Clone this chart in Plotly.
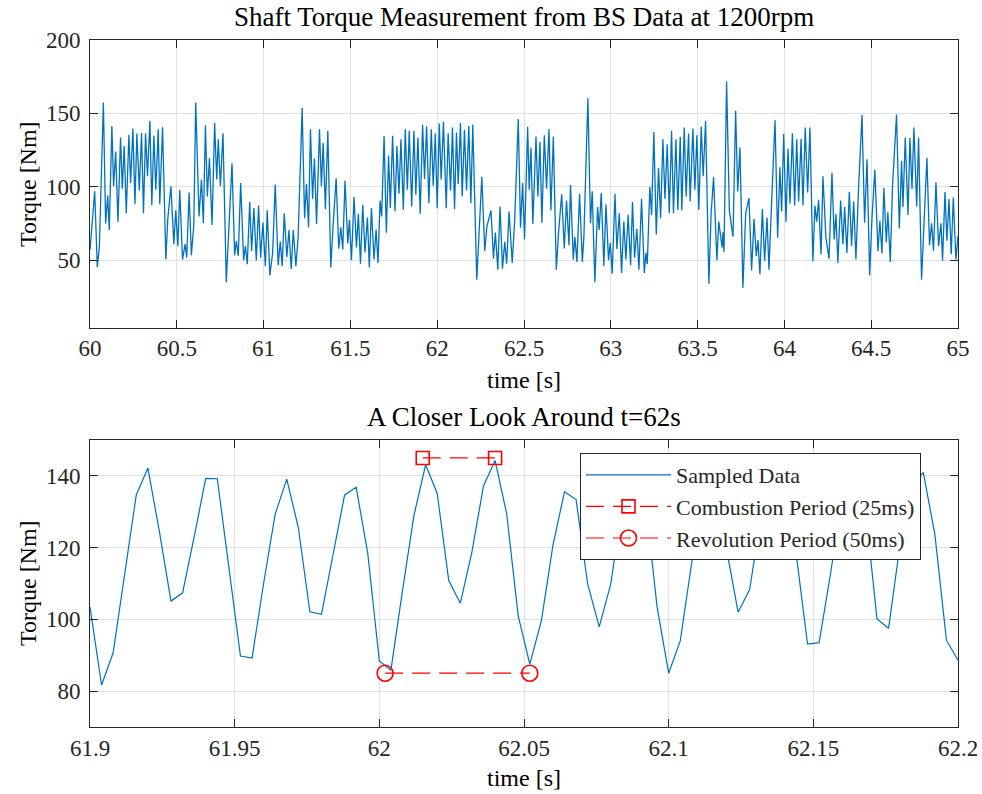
import numpy as np
import plotly.graph_objects as go

# ---------------- data ----------------
# Top panel: turning points of the shaft torque trace, 60 s .. 65 s
top_time = [
    60.000, 60.027, 60.042, 60.054, 60.077, 60.090, 60.102, 60.111, 60.126, 60.136,
    60.148, 60.161, 60.176, 60.186, 60.197, 60.209, 60.224, 60.234, 60.247, 60.259,
    60.270, 60.284, 60.297, 60.308, 60.320, 60.331, 60.345, 60.356, 60.368, 60.379,
    60.393, 60.402, 60.418, 60.437, 60.448, 60.466, 60.483, 60.494, 60.506, 60.517,
    60.533, 60.548, 60.557, 60.571, 60.584, 60.598, 60.609, 60.628, 60.642, 60.653,
    60.665, 60.676, 60.688, 60.703, 60.718, 60.730, 60.739, 60.751, 60.766, 60.785,
    60.818, 60.833, 60.843, 60.854, 60.868, 60.885, 60.895, 60.906, 60.920, 60.931,
    60.944, 60.958, 60.971, 60.983, 60.996, 61.010, 61.021, 61.036, 61.052, 61.067,
    61.084, 61.096, 61.107, 61.119, 61.134, 61.146, 61.159, 61.171, 61.186, 61.199,
    61.222, 61.236, 61.247, 61.259, 61.270, 61.282, 61.293, 61.305, 61.322, 61.333,
    61.343, 61.356, 61.370, 61.387, 61.400, 61.418, 61.433, 61.445, 61.456, 61.469,
    61.485, 61.494, 61.506, 61.521, 61.535, 61.546, 61.558, 61.571, 61.584, 61.598,
    61.609, 61.621, 61.636, 61.648, 61.659, 61.671, 61.680, 61.694, 61.707, 61.720,
    61.730, 61.743, 61.757, 61.768, 61.780, 61.791, 61.805, 61.816, 61.828, 61.839,
    61.853, 61.866, 61.877, 61.889, 61.902, 61.916, 61.927, 61.939, 61.952, 61.966,
    61.977, 61.989, 62.000, 62.012, 62.023, 62.036, 62.052, 62.063, 62.077, 62.088,
    62.100, 62.111, 62.121, 62.134, 62.144, 62.157, 62.169, 62.182, 62.194, 62.205,
    62.228, 62.241, 62.257, 62.274, 62.286, 62.310, 62.324, 62.335, 62.349, 62.362,
    62.376, 62.389, 62.400, 62.414, 62.432, 62.446, 62.467, 62.480, 62.492, 62.503,
    62.521, 62.530, 62.540, 62.551, 62.569, 62.580, 62.592, 62.603, 62.617, 62.630,
    62.644, 62.655, 62.669, 62.686, 62.699, 62.717, 62.732, 62.745, 62.759, 62.768,
    62.784, 62.793, 62.805, 62.820, 62.836, 62.845, 62.868, 62.883, 62.893, 62.908,
    62.924, 62.933, 62.945, 62.960, 62.972, 62.987, 62.997, 63.008, 63.024, 63.035,
    63.049, 63.062, 63.075, 63.087, 63.100, 63.114, 63.125, 63.137, 63.150, 63.162,
    63.177, 63.193, 63.202, 63.210, 63.225, 63.235, 63.248, 63.262, 63.275, 63.287,
    63.300, 63.312, 63.325, 63.337, 63.350, 63.361, 63.375, 63.386, 63.400, 63.409,
    63.423, 63.434, 63.448, 63.457, 63.473, 63.484, 63.496, 63.507, 63.521, 63.532,
    63.546, 63.565, 63.578, 63.592, 63.611, 63.622, 63.641, 63.646, 63.652, 63.667,
    63.683, 63.704, 63.719, 63.731, 63.744, 63.761, 63.777, 63.796, 63.811, 63.825,
    63.838, 63.848, 63.859, 63.873, 63.886, 63.900, 63.911, 63.927, 63.946, 63.961,
    63.974, 63.984, 63.996, 64.009, 64.021, 64.032, 64.046, 64.059, 64.071, 64.082,
    64.096, 64.107, 64.120, 64.134, 64.147, 64.164, 64.176, 64.186, 64.197, 64.211,
    64.222, 64.239, 64.257, 64.274, 64.287, 64.297, 64.308, 64.324, 64.337, 64.347,
    64.360, 64.374, 64.387, 64.399, 64.412, 64.426, 64.447, 64.462, 64.476, 64.491,
    64.504, 64.521, 64.539, 64.550, 64.562, 64.573, 64.587, 64.596, 64.610, 64.623,
    64.646, 64.662, 64.675, 64.683, 64.696, 64.712, 64.723, 64.735, 64.746, 64.762,
    64.773, 64.790, 64.804, 64.821, 64.836, 64.848, 64.859, 64.873, 64.888, 64.902,
    64.911, 64.925, 64.936, 64.948, 64.961, 64.973, 64.988, 65.000,
]
top_torque = [
    56.9, 97.0, 45.4, 59.0, 157.5, 75.0, 94.0, 70.6, 141.5, 100.4,
    124.0, 76.3, 133.5, 98.7, 127.8, 82.0, 135.4, 102.6, 139.7, 88.2,
    136.3, 97.6, 136.7, 82.0, 136.5, 107.2, 145.0, 87.5, 134.7, 98.0,
    139.2, 88.2, 140.6, 50.5, 78.0, 100.4, 61.0, 84.0, 59.6, 98.0,
    50.5, 61.0, 52.0, 96.2, 53.4, 74.0, 157.5, 79.8, 105.0, 75.2,
    142.0, 93.5, 119.6, 74.0, 143.4, 105.0, 132.4, 100.4, 136.5, 35.1,
    116.0, 53.4, 63.0, 53.0, 102.6, 50.0, 59.6, 47.3, 89.6, 56.4,
    85.5, 49.8, 87.3, 51.8, 75.6, 45.9, 84.0, 39.7, 55.0, 101.5,
    46.6, 62.8, 45.9, 82.0, 52.3, 70.6, 44.0, 70.6, 45.9, 66.0,
    153.7, 78.6, 102.0, 72.4, 139.2, 91.7, 119.3, 74.7, 139.2, 100.4,
    129.9, 84.8, 138.1, 45.0, 72.9, 105.8, 57.8, 72.4, 57.3, 104.2,
    61.5, 77.5, 50.0, 93.0, 58.7, 81.6, 47.7, 87.8, 55.3, 79.1,
    45.0, 85.5, 50.5, 71.0, 48.2, 90.7, 79.8, 134.7, 68.8, 121.4,
    85.5, 134.7, 83.2, 127.8, 95.3, 132.4, 84.3, 139.2, 98.0, 138.1,
    86.6, 138.1, 94.6, 133.5, 81.6, 142.2, 105.4, 141.1, 88.9, 139.2,
    100.8, 136.3, 85.5, 143.1, 104.9, 144.3, 85.5, 136.5, 97.6, 140.4,
    84.8, 137.0, 102.0, 143.4, 93.5, 138.8, 97.6, 141.5, 88.9, 142.4,
    36.7, 69.5, 106.8, 56.4, 72.9, 83.9, 51.1, 68.8, 43.6, 86.6,
    44.3, 62.6, 47.7, 83.2, 48.2, 76.3, 146.1, 72.2, 102.6, 64.2,
    140.8, 98.0, 126.7, 74.7, 134.2, 93.5, 130.6, 75.6, 135.1, 98.7,
    139.2, 83.9, 134.2, 43.6, 68.8, 95.0, 58.0, 90.7, 60.3, 101.3,
    50.5, 66.0, 48.9, 95.3, 48.9, 66.0, 160.3, 75.2, 96.9, 35.1,
    86.2, 70.6, 95.8, 46.1, 88.2, 50.0, 61.9, 40.9, 95.3, 57.6,
    82.0, 41.3, 76.3, 50.5, 80.9, 46.6, 89.6, 51.8, 71.3, 43.6,
    91.9, 41.3, 55.0, 47.3, 99.9, 80.9, 137.4, 67.6, 112.9, 78.6,
    132.4, 91.7, 128.9, 82.0, 138.1, 82.0, 132.4, 84.3, 134.0, 83.9,
    140.4, 93.5, 136.3, 90.0, 139.7, 98.0, 135.1, 84.3, 141.1, 107.2,
    145.0, 34.0, 82.0, 106.5, 50.0, 76.3, 58.7, 69.0, 55.7, 171.7,
    83.6, 66.0, 151.8, 96.9, 126.7, 31.3, 82.0, 92.3, 43.1, 78.1,
    52.8, 63.7, 40.4, 84.8, 49.6, 79.1, 43.6, 91.2, 145.4, 65.3,
    113.4, 83.2, 136.0, 76.3, 126.0, 88.5, 136.5, 87.3, 132.4, 90.0,
    132.8, 87.3, 140.4, 96.2, 140.4, 49.3, 87.3, 76.3, 91.2, 53.9,
    107.2, 65.6, 51.1, 109.5, 64.2, 81.6, 48.2, 90.7, 61.0, 86.2,
    55.0, 96.7, 59.8, 90.0, 50.5, 95.8, 148.9, 75.6, 118.7, 39.7,
    77.5, 111.6, 56.2, 76.8, 54.6, 99.3, 62.1, 82.7, 48.9, 101.0,
    149.3, 71.7, 117.6, 86.2, 133.5, 80.9, 133.3, 98.5, 140.4, 86.6,
    133.5, 36.7, 77.5, 119.8, 60.3, 75.2, 56.4, 103.1, 59.6, 75.2,
    49.6, 96.5, 63.3, 91.7, 54.1, 92.8, 50.5, 66.5,
]

# Bottom panel: samples every 4 ms from 61.900 s to 62.200 s
zoom_start = 61.9
zoom_dt = 0.004
zoom_torque = [
    103.4, 81.7, 90.7, 113.0, 134.7, 142.2, 124.4, 105.1, 107.4, 123.0,
    139.3, 139.2, 114.0, 89.8, 89.2, 110.0, 129.3, 139.1, 125.6, 102.1,
    101.4, 118.0, 134.7, 136.8, 118.4, 88.4, 85.8, 108.0, 129.1, 143.1,
    135.1, 110.8, 104.5, 118.8, 137.2, 144.3, 129.5, 101.0, 87.5, 99.6,
    120.6, 135.6, 133.4, 109.9, 97.9, 109.9, 132.0, 140.0, 133.0, 103.4,
    85.0, 94.0, 116.0, 136.0, 133.0, 119.6, 102.0, 108.3, 129.3, 143.0,
    135.0, 118.7, 93.1, 93.5, 113.0, 135.0, 139.0, 131.0, 100.1, 97.5,
    121.0, 137.0, 141.0, 123.7, 94.2, 88.6,
]
zoom_time = list(np.round(zoom_start + zoom_dt * np.arange(len(zoom_torque)), 3))

combustion_time = [62.015, 62.040]
combustion_torque = [145, 145]
revolution_time = [62.002, 62.052]
revolution_torque = [85, 85]

top_xticks = [60, 60.5, 61, 61.5, 62, 62.5, 63, 63.5, 64, 64.5, 65]
top_xlabels = ["60", "60.5", "61", "61.5", "62", "62.5", "63", "63.5", "64", "64.5", "65"]
top_yticks = [50, 100, 150, 200]
bot_xticks = [61.9, 61.95, 62.0, 62.05, 62.1, 62.15, 62.2]
bot_xlabels = ["61.9", "61.95", "62", "62.05", "62.1", "62.15", "62.2"]
bot_yticks = [80, 100, 120, 140]

# ---------------- styling ----------------
FONT = "Liberation Serif"
BLUE = "#0072BD"
RED = "#FF0000"
AX = "#262626"
GRID = "#e0e0e0"
W, H = 982, 794

def px_x(p):
    return p / W

def px_y(p):
    return 1 - p / H

fig = go.Figure()
fig.add_trace(go.Scatter(x=top_time, y=top_torque, mode="lines",
                         line=dict(color=BLUE, width=1.3), showlegend=False,
                         xaxis="x", yaxis="y"))
fig.add_trace(go.Scatter(x=zoom_time, y=zoom_torque, mode="lines",
                         name="Sampled Data", line=dict(color=BLUE, width=1.2),
                         xaxis="x2", yaxis="y2"))
fig.add_trace(go.Scatter(x=combustion_time, y=combustion_torque, mode="lines+markers",
                         name="Combustion Period (25ms)",
                         line=dict(color=RED, width=1.2, dash="18px,9px"),
                         marker=dict(symbol="square-open", size=13, color=RED,
                                     line=dict(width=1.6, color=RED)),
                         xaxis="x2", yaxis="y2"))
fig.add_trace(go.Scatter(x=revolution_time, y=revolution_torque, mode="lines+markers",
                         name="Revolution Period (50ms)",
                         line=dict(color=RED, width=1.2, dash="18px,9px"),
                         marker=dict(symbol="circle-open", size=16, color=RED,
                                     line=dict(width=1.6, color=RED)),
                         xaxis="x2", yaxis="y2"))

axis_common = dict(showline=True, linecolor=AX, linewidth=1, mirror="allticks",
                   ticks="inside", ticklen=8, tickcolor=AX, tickwidth=1,
                   showgrid=True, gridcolor=GRID, gridwidth=1, zeroline=False,
                   tickfont=dict(family=FONT, size=23, color=AX),
                   automargin=False)

xd = [px_x(90), px_x(958)]
fig.update_layout(
    width=W, height=H, autosize=False,
    margin=dict(l=0, r=0, t=0, b=0, pad=0),
    paper_bgcolor="white", plot_bgcolor="white",
    font=dict(family=FONT, color=AX),
    xaxis=dict(domain=xd, range=[60, 65], tickvals=top_xticks, ticktext=top_xlabels,
               anchor="y", ticklabelstandoff=0, **axis_common),
    yaxis=dict(domain=[px_y(327.5), px_y(40)], range=[4.2, 200], tickvals=top_yticks,
               anchor="x", ticklabelstandoff=4, **axis_common),
    xaxis2=dict(domain=xd, range=[61.9, 62.2], tickvals=bot_xticks, ticktext=bot_xlabels,
                anchor="y2", ticklabelstandoff=0, **axis_common),
    yaxis2=dict(domain=[px_y(727), px_y(440)], range=[70, 150], tickvals=bot_yticks,
                anchor="x2", ticklabelstandoff=4, **axis_common),
    legend=dict(x=px_x(580), y=px_y(453), xanchor="left", yanchor="top",
                bgcolor="white", bordercolor=AX, borderwidth=1,
                font=dict(family=FONT, size=22, color=AX),
                itemwidth=85, tracegroupgap=0),
    showlegend=True,
)

ann = []
def text(s, x, y, size, angle=0):
    ann.append(dict(text=s, x=px_x(x), y=px_y(y), xref="paper", yref="paper",
                    showarrow=False, xanchor="center", yanchor="middle",
                    textangle=angle, font=dict(family=FONT, size=size, color="#000000")))

text("Shaft Torque Measurement from BS Data at 1200rpm", 524, 17, 27)
text("time [s]", 524, 380, 24)
text("Torque [Nm]", 28, 184, 24, -90)
text("A Closer Look Around t=62s", 524, 417, 27)
text("time [s]", 524, 778, 24)
text("Torque [Nm]", 28, 583, 24, -90)
fig.update_layout(annotations=ann)

fig.write_html("out.html")
